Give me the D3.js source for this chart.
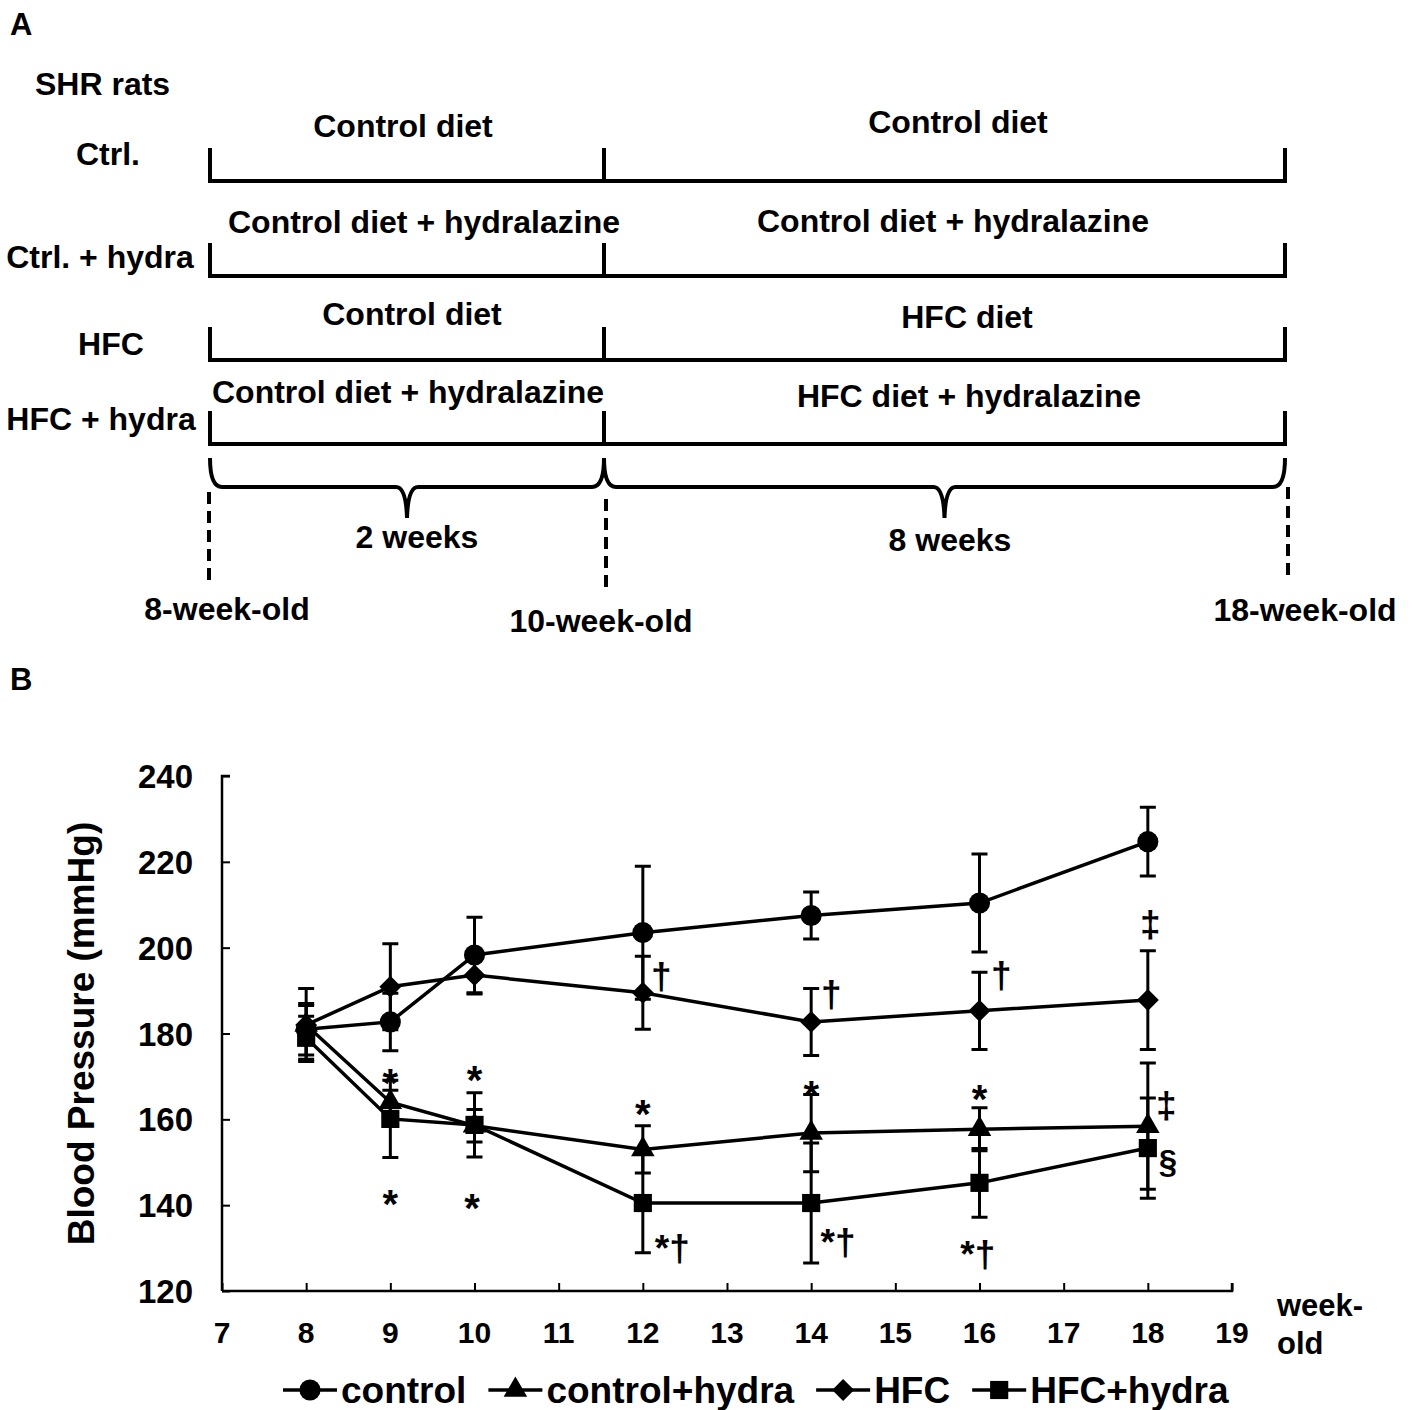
<!DOCTYPE html>
<html>
<head>
<meta charset="utf-8">
<script src="https://cdn.jsdelivr.net/npm/d3@7"></script>
<style>
  body { margin: 0; background: #fff; }
  text { font-family: "Liberation Sans", Arial, sans-serif; font-weight: bold; fill: #000; }
</style>
</head>
<body>
<script>
// ---- Panel A: study design ----
const groups = ["Ctrl.", "Ctrl. + hydra", "HFC", "HFC + hydra"];
const phase1Diets = ["Control diet", "Control diet + hydralazine", "Control diet", "Control diet + hydralazine"];
const phase2Diets = ["Control diet", "Control diet + hydralazine", "HFC diet", "HFC diet + hydralazine"];
const milestoneWeeks = [8, 10, 18];
const milestoneLabels = ["8-week-old", "10-week-old", "18-week-old"];
const durationLabels = ["2 weeks", "8 weeks"];

// ---- Panel B: blood pressure ----
const weeks = [8, 9, 10, 12, 14, 16, 18];
const seriesNames = ["control", "control+hydra", "HFC", "HFC+hydra"];
const controlBP = [181, 182.7, 198.3, 203.5, 207.5, 210.4, 224.7];
const controlErr = [6, 6.7, 8.8, 15.5, 5.5, 11.4, 8];
const controlHydraBP = [182, 164, 158.5, 153, 156.8, 157.7, 158.4];
const controlHydraErr = [4.5, 2.8, 3.8, 5.5, 9, 5, 14.7];
const hfcBP = [182, 190.9, 193.6, 189.5, 182.7, 185.3, 187.8];
const hfcErr = [8.5, 10, 4.4, 8.5, 7.8, 9, 11.5];
const hfcHydraBP = [179, 160.1, 158.7, 140.5, 140.5, 145.2, 153.3];
const hfcHydraErr = [5, 9, 7.5, 11.6, 14, 8, 11.7];
const yTicks = [120, 140, 160, 180, 200, 220, 240];
const xTicks = [7, 8, 9, 10, 11, 12, 13, 14, 15, 16, 17, 18, 19];

// significance marks: week, mmHg, symbol
const markWeeks = [9, 9, 10, 9.97, 12, 14, 16, 12.35, 14.32, 15.98, 12.22, 14.24, 16.26, 18.03, 18.22, 18.24];
const markValues = [170.4, 142.2, 171.0, 141.2, 163.2, 167.6, 166.6, 130.0, 131.2, 128.4, 193.2, 189.0, 193.6, 205.3, 163.3, 150.1];
const markTexts = ["*", "*", "*", "*", "*", "*", "*", "*†", "*†", "*†", "†", "†", "†", "‡", "‡", "§"];
const thinMarks = [true, true, true, true, true, true, true, false, false, false, false, false, false, false, false, false];

const W = 1414, H = 1410;
const svg = d3.select("body").append("svg")
  .attr("width", W).attr("height", H)
  .attr("viewBox", `0 0 ${W} ${H}`);
svg.append("rect").attr("width", W).attr("height", H).attr("fill", "#fff");

// ================= Panel A =================

svg.append("text").attr("x", 10).attr("y", 35).attr("font-size", 31).text("A");
svg.append("text").attr("x", 35).attr("y", 95).attr("font-size", 32).text("SHR rats");

const tA = d3.scaleLinear().domain(milestoneWeeks).range([210, 604, 1285]);

const rowLineY = [181, 276, 360, 444];
const groupX = [108, 100, 111, 101];
const groupY = [165, 268, 355, 430];
const phase1X = [403, 424, 412, 408];
const phase1Y = [137, 233, 325, 403];
const phase2X = [958, 953, 967, 969];
const phase2Y = [133, 232, 328, 407];

const rows = svg.append("g");
groups.forEach((g, i) => {
  const y = rowLineY[i];
  rows.append("path")
    .attr("d", `M${tA(8)},${y - 33}V${y}H${tA(18)}V${y - 33}M${tA(10)},${y - 33}V${y}`)
    .attr("fill", "none").attr("stroke", "#000").attr("stroke-width", 4);
  rows.append("text").attr("x", groupX[i]).attr("y", groupY[i])
    .attr("text-anchor", "middle").attr("font-size", 32).text(g);
  rows.append("text").attr("x", phase1X[i]).attr("y", phase1Y[i])
    .attr("text-anchor", "middle").attr("font-size", 32).text(phase1Diets[i]);
  rows.append("text").attr("x", phase2X[i]).attr("y", phase2Y[i])
    .attr("text-anchor", "middle").attr("font-size", 32).text(phase2Diets[i]);
});

// curly braces
const brace = (x0, x1, top, mid, tip) => {
  const c = (x0 + x1) / 2;
  return `M${x0},${top} Q${x0},${mid} ${x0 + 12},${mid} L${c - 11},${mid} Q${c - 1},${mid} ${c},${tip}` +
    ` Q${c + 1},${mid} ${c + 11},${mid} L${x1 - 12},${mid} Q${x1},${mid} ${x1},${top}`;
};
svg.append("path").attr("d", brace(tA(8), tA(10), 458, 487, 518))
  .attr("fill", "none").attr("stroke", "#000").attr("stroke-width", 4);
svg.append("path").attr("d", brace(tA(10), tA(18), 458, 487, 518))
  .attr("fill", "none").attr("stroke", "#000").attr("stroke-width", 4);

svg.append("text").attr("x", 417).attr("y", 548).attr("text-anchor", "middle")
  .attr("font-size", 32).text(durationLabels[0]);
svg.append("text").attr("x", 950).attr("y", 551).attr("text-anchor", "middle")
  .attr("font-size", 32).text(durationLabels[1]);

// dashed milestone lines
const dashTop = [492, 499, 487], dashBot = [585, 590, 578], dashDx = [-1, 2, 3];
const labelDx = [17, -3, 20], labelY = [620, 632, 621];
milestoneWeeks.forEach((w, i) => {
  svg.append("line")
    .attr("x1", tA(w) + dashDx[i]).attr("x2", tA(w) + dashDx[i])
    .attr("y1", dashTop[i]).attr("y2", dashBot[i])
    .attr("stroke", "#000").attr("stroke-width", 4).attr("stroke-dasharray", "12 7");
  svg.append("text").attr("x", tA(w) + labelDx[i]).attr("y", labelY[i])
    .attr("text-anchor", "middle").attr("font-size", 32).text(milestoneLabels[i]);
});

// ================= Panel B =================

svg.append("text").attr("x", 10).attr("y", 690).attr("font-size", 31).text("B");

const x = d3.scaleLinear().domain([7, 19]).range([222, 1232]);
const y = d3.scaleLinear().domain([120, 240]).range([1291, 776]);

// axes
const yAxis = svg.append("g").attr("transform", `translate(${x(7)},0)`)
  .call(d3.axisRight(y).tickValues(yTicks).tickSize(8).tickFormat(""));
yAxis.select(".domain").attr("d", `M0,${y(240)}H8H0V${y(120)}`);
const xAxis = svg.append("g").attr("transform", `translate(0,${y(120)})`)
  .call(d3.axisTop(x).tickValues(xTicks).tickSize(8).tickFormat(""));
xAxis.select(".domain").attr("d", `M${x(7)},0H${x(19)}V-8`);
svg.selectAll(".domain").attr("stroke", "#000").attr("stroke-width", 2.5);
svg.selectAll(".tick line").attr("stroke", "#000").attr("stroke-width", 2);

svg.append("g").selectAll("text").data(yTicks).join("text")
  .attr("x", 193).attr("y", d => y(d) + 12)
  .attr("text-anchor", "end").attr("font-size", 33).text(d => d);
svg.append("g").selectAll("text").data(xTicks).join("text")
  .attr("x", d => x(d)).attr("y", 1343)
  .attr("text-anchor", "middle").attr("font-size", 30).text(d => d);

svg.append("text").attr("x", 1277).attr("y", 1316).attr("font-size", 31).text("week-");
svg.append("text").attr("x", 1277).attr("y", 1354).attr("font-size", 31).text("old");

svg.append("text")
  .attr("transform", `translate(94,${(y(240) + y(120)) / 2}) rotate(-90)`)
  .attr("text-anchor", "middle").attr("font-size", 37)
  .text("Blood Pressure (mmHg)");

// series
const symbols = [
  { type: d3.symbolCircle, size: 350, rot: 0 },
  { type: d3.symbolTriangle, size: 240, rot: 0 },
  { type: d3.symbolSquare, size: 240, rot: 45 },
  { type: d3.symbolSquare, size: 330, rot: 0 },
];
const seriesValues = [controlBP, controlHydraBP, hfcBP, hfcHydraBP];
const seriesErrors = [controlErr, controlHydraErr, hfcErr, hfcHydraErr];

const line = d3.line().x(d => x(d.week)).y(d => y(d.v));
const plot = svg.append("g");
const drawOrder = [0, 2, 1, 3];

// error bars first
drawOrder.forEach(s => {
  const pts = weeks.map((w, i) => ({ week: w, v: seriesValues[s][i], e: seriesErrors[s][i] }));
  const eb = plot.append("g").attr("stroke", "#000").attr("stroke-width", 3);
  pts.forEach(p => {
    const cx = x(p.week), hi = y(p.v + p.e), lo = y(p.v - p.e);
    eb.append("path").attr("d", `M${cx},${hi}V${lo}M${cx - 8},${hi}H${cx + 8}M${cx - 8},${lo}H${cx + 8}`);
  });
});
drawOrder.forEach(s => {
  const pts = weeks.map((w, i) => ({ week: w, v: seriesValues[s][i] }));
  plot.append("path").datum(pts).attr("d", line)
    .attr("fill", "none").attr("stroke", "#000").attr("stroke-width", 3.5);
  plot.append("g").selectAll("path").data(pts).join("path")
    .attr("d", d3.symbol(symbols[s].type, symbols[s].size))
    .attr("transform", d => `translate(${x(d.week)},${y(d.v)}) rotate(${symbols[s].rot})`)
    .attr("fill", "#000");
});

// significance marks
const marks = svg.append("g");
markTexts.forEach((t, i) => {
  const node = marks.append("text")
    .attr("x", x(markWeeks[i]))
    .attr("text-anchor", "middle")
    .text(t);
  if (thinMarks[i]) {
    // thin serif asterisk, baseline placed so the glyph centre sits on the value
    node.attr("y", y(markValues[i]) + 22)
      .attr("font-family", "'Liberation Serif', 'Times New Roman', serif")
      .attr("font-weight", "normal").attr("font-size", 40).attr("fill", "#333");
  } else if (t === "§") {
    node.attr("y", y(markValues[i])).attr("dominant-baseline", "central")
      .attr("font-weight", "normal").attr("font-size", 33);
  } else {
    node.attr("y", y(markValues[i])).attr("dominant-baseline", "central")
      .attr("font-size", 37);
  }
});

// legend
const legend = svg.append("g").attr("transform", "translate(283,1390)");
let lx = 0;
seriesNames.forEach((name, s) => {
  const g = legend.append("g").attr("transform", `translate(${lx},0)`);
  g.append("line").attr("x1", 0).attr("x2", 54).attr("stroke", "#000").attr("stroke-width", 3.5);
  g.append("path").attr("d", d3.symbol(symbols[s].type, symbols[s].size)())
    .attr("transform", `translate(27,0) rotate(${symbols[s].rot})`).attr("fill", "#000");
  const t = g.append("text").attr("x", 58).attr("y", 13).attr("font-size", 37).text(name);
  lx += 58 + t.node().getComputedTextLength() + 22;
});
</script>
</body>
</html>
